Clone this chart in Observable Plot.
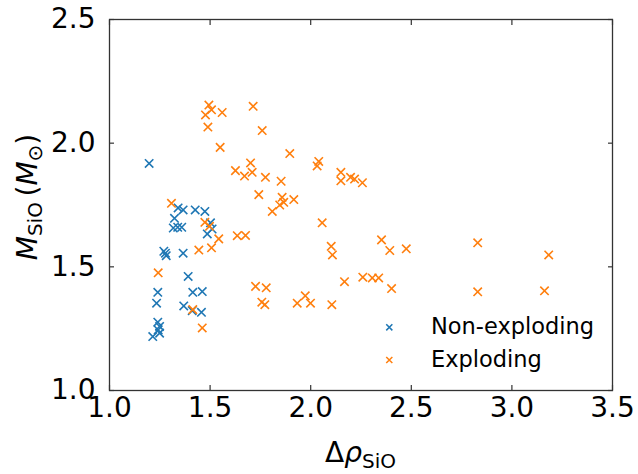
<!DOCTYPE html>
<html><head><meta charset="utf-8">
<script src="https://cdn.jsdelivr.net/npm/d3@7"></script>
<script src="https://cdn.jsdelivr.net/npm/@observablehq/plot@0.6"></script>
<style>
body{margin:0;background:#fff;}
#chart{position:relative;width:638px;height:474px;}
</style>
</head><body><div id="chart"></div>
<script>
const seriesNames = ["Non-exploding", "Exploding"];
const seriesColors = ["#1f77b4", "#ff7f0e"];
const xTicks = [1.0, 1.5, 2.0, 2.5, 3.0, 3.5];
const yTicks = [1.0, 1.5, 2.0, 2.5];

const nonExplodingX = [1.197,1.341,1.366,1.426,1.474,1.323,1.317,1.339,1.359,1.502,1.510,1.486,1.270,1.278,1.282,1.366,1.391,1.240,1.414,1.461,1.234,1.369,1.411,1.457,1.240,1.249,1.242,1.249,1.215];
const nonExplodingY = [1.918,1.738,1.730,1.730,1.724,1.696,1.657,1.660,1.660,1.678,1.653,1.633,1.563,1.555,1.545,1.555,1.461,1.397,1.397,1.400,1.353,1.342,1.323,1.316,1.276,1.259,1.245,1.232,1.218];

const explodingX = [1.494,1.507,1.477,1.560,1.714,1.489,1.759,1.550,1.701,1.709,1.626,1.671,1.775,1.853,1.742,1.308,1.858,1.916,1.866,1.846,1.809,1.474,1.497,1.543,1.635,1.676,1.444,1.507,1.242,1.414,1.461,1.726,1.779,1.757,1.772,1.896,2.040,2.032,2.150,2.150,2.198,2.218,2.257,2.057,2.352,2.102,2.108,2.393,2.475,2.168,2.259,2.306,2.338,2.402,1.973,1.933,1.999,2.105,2.830,3.183,2.830,3.162];
const explodingY = [2.154,2.135,2.114,2.124,2.149,2.065,2.051,1.983,1.920,1.882,1.889,1.867,1.862,1.846,1.792,1.757,1.781,1.772,1.761,1.750,1.724,1.680,1.664,1.613,1.626,1.627,1.568,1.577,1.476,1.327,1.253,1.421,1.415,1.357,1.347,1.958,1.926,1.908,1.882,1.848,1.862,1.855,1.840,1.678,1.609,1.583,1.548,1.566,1.573,1.440,1.458,1.455,1.455,1.412,1.383,1.353,1.353,1.347,1.597,1.548,1.399,1.403];

const points = [
  ...nonExplodingX.map((x, i) => ({x, y: nonExplodingY[i], s: seriesNames[0]})),
  ...explodingX.map((x, i) => ({x, y: explodingY[i], s: seriesNames[1]}))
];

const font = "DejaVu Sans";
const axisColor = "#333";
const plot = Plot.plot({
  width: 638, height: 474,
  marginLeft: 109, marginRight: 26, marginTop: 19, marginBottom: 84,
  x: {domain: [1, 3.5]},
  y: {domain: [1, 2.5]},
  color: {domain: seriesNames, range: seriesColors},
  style: {fontFamily: font, background: "white", color: "black"},
  marks: [
    Plot.axisX(xTicks, {anchor: "bottom", tickSize: -5, tickPadding: 12, fontSize: 28, tickFormat: d => d.toFixed(1), label: null, stroke: axisColor, strokeWidth: 1.2}),
    Plot.axisX(xTicks, {anchor: "top", tickSize: -5, tickFormat: () => "", label: null, stroke: axisColor, strokeWidth: 1.2}),
    Plot.axisY(yTicks, {anchor: "left", tickSize: -5, tickPadding: 19, fontSize: 28, tickFormat: d => d.toFixed(1), label: null, stroke: axisColor, strokeWidth: 1.2}),
    Plot.axisY(yTicks, {anchor: "right", tickSize: -5, tickFormat: () => "", label: null, stroke: axisColor, strokeWidth: 1.2}),
    Plot.frame({stroke: axisColor, strokeWidth: 1.3}),
    Plot.dot(points, {x: "x", y: "y", stroke: "s", symbol: "times", r: 3.9, strokeWidth: 1.6})
  ]
});
document.getElementById("chart").appendChild(plot);

const svg = d3.select(plot);
// x label
const xl = svg.append("text")
  .attr("x", (109 + 612) / 2).attr("y", 462)
  .attr("text-anchor", "middle")
  .attr("font-family", font).attr("font-size", 28).attr("fill", "black");
xl.append("tspan").text("Δ");
xl.append("tspan").attr("font-style", "italic").text("ρ");
xl.append("tspan").attr("font-size", 20).attr("dy", 6).text("SiO");

// y label
const yl = svg.append("text")
  .attr("transform", "translate(37,197) rotate(-90)")
  .attr("text-anchor", "middle")
  .attr("font-family", font).attr("font-size", 28).attr("fill", "black");
yl.append("tspan").attr("font-style", "italic").text("M");
yl.append("tspan").attr("font-size", 20).attr("dy", 5).text("SiO");
yl.append("tspan").attr("dy", -5).text("\u2009(");
yl.append("tspan").attr("font-style", "italic").text("M");
yl.append("tspan").attr("font-size", 20).attr("dy", 5).text("⊙");
yl.append("tspan").attr("dy", -5).text(")");

// legend
const legendRows = [327.3, 360];
seriesNames.forEach((name, i) => {
  const sym = d3.symbol(d3.symbolTimes, 26)();
  svg.append("path").attr("d", sym)
    .attr("transform", `translate(389.3,${legendRows[i]})`)
    .attr("fill", "none").attr("stroke", seriesColors[i]).attr("stroke-width", 1.5);
  svg.append("text").attr("x", 431).attr("y", legendRows[i] + 7)
    .attr("text-anchor", "start")
    .attr("font-family", font).attr("font-size", 22.5).attr("fill", "black")
    .text(name);
});
</script>
</body></html>
